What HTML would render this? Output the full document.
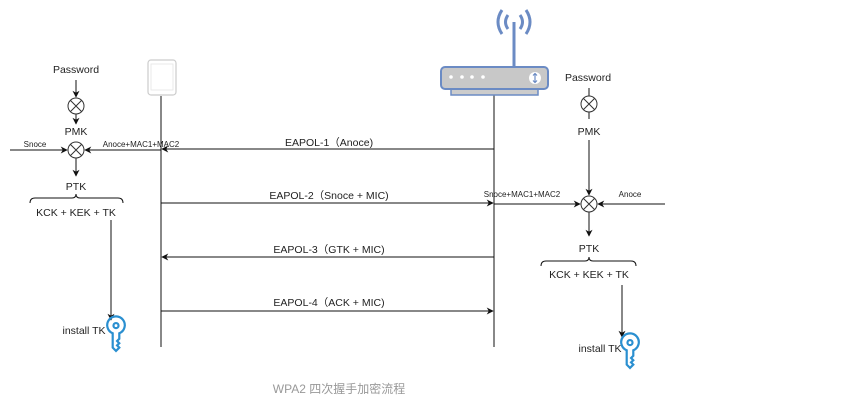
<!DOCTYPE html>
<html><head><meta charset="utf-8"><style>
html,body{margin:0;padding:0;background:#fff;}
svg{display:block;}
text{font-family:"Liberation Sans","Noto Sans CJK SC",sans-serif;fill:#222;}
</style></head><body>
<svg width="865" height="403" viewBox="0 0 865 403" xmlns="http://www.w3.org/2000/svg">
<defs>
<marker id="a" viewBox="0 0 10 10" refX="9" refY="5" markerWidth="7" markerHeight="7" orient="auto"><path d="M0,0 L10,5 L0,10 L3,5 z" fill="#111"/></marker>
<g id="x"><circle r="8" fill="#fff" stroke="#333" stroke-width="1"/><path d="M-5.6,-5.6 L5.6,5.6 M5.6,-5.6 L-5.6,5.6" stroke="#333" stroke-width="1"/></g>
<g id="key" fill="none" stroke="#2a8fd0" stroke-width="2"><path d="M-3,3 A8,8 0 1 1 3,3 L3,8 L1,10 L3,12 L1,14 L3,16 L0,19 L-3,16 Z"/><circle cx="0" cy="-4" r="2.3"/></g>
</defs>
<g stroke="#111" stroke-width="1" fill="none">
<line x1="76" y1="80" x2="76" y2="97" marker-end="url(#a)"/>
<line x1="76" y1="114" x2="76" y2="124" marker-end="url(#a)"/>
<line x1="10" y1="150" x2="67" y2="150" marker-end="url(#a)"/>
<line x1="161" y1="150" x2="85" y2="150" marker-end="url(#a)"/>
<line x1="76" y1="158" x2="76" y2="176" marker-end="url(#a)"/>
<path d="M30,203 Q30,198 35,198 L72,198 Q76,198 76,194 Q76,198 80,198 L118,198 Q123,198 123,203"/>
<line x1="111" y1="220" x2="111" y2="320" marker-end="url(#a)"/>
<line x1="161" y1="96" x2="161" y2="347"/>
<line x1="494" y1="95" x2="494" y2="347"/>
<line x1="494" y1="149" x2="162" y2="149" marker-end="url(#a)"/>
<line x1="161" y1="203" x2="493" y2="203" marker-end="url(#a)"/>
<line x1="494" y1="257" x2="162" y2="257" marker-end="url(#a)"/>
<line x1="161" y1="311" x2="493" y2="311" marker-end="url(#a)"/>
<line x1="589" y1="88" x2="589" y2="96"/>
<line x1="589" y1="112" x2="589" y2="119"/>
<line x1="589" y1="140" x2="589" y2="195" marker-end="url(#a)"/>
<line x1="494" y1="204" x2="580" y2="204" marker-end="url(#a)"/>
<line x1="665" y1="204" x2="598" y2="204" marker-end="url(#a)"/>
<line x1="589" y1="212" x2="589" y2="236" marker-end="url(#a)"/>
<path d="M541,266 Q541,261 546,261 L585,261 Q589,261 589,257 Q589,261 593,261 L631,261 Q636,261 636,266"/>
<line x1="622" y1="285" x2="622" y2="337" marker-end="url(#a)"/>
</g>
<use href="#x" x="76" y="106"/>
<use href="#x" x="76" y="150"/>
<use href="#x" x="589" y="104"/>
<use href="#x" x="589" y="204"/>
<rect x="148" y="60" width="28" height="35" rx="3" fill="#fff" stroke="#ccc" stroke-width="1.2"/>
<rect x="151" y="64" width="22" height="26" fill="none" stroke="#e4e4e4" stroke-width="0.8"/>
<g stroke="#6b8bc4" stroke-width="2" fill="none">
<line x1="514" y1="22" x2="514" y2="67" stroke-width="3"/>
<path d="M508,15 Q503,22 508,29 M502,10 Q494,22 502,34 M520,15 Q525,22 520,29 M526,10 Q534,22 526,34" stroke-width="3"/>
<rect x="451" y="88" width="87" height="7" fill="#ccc" stroke-width="1.5"/>
<rect x="441" y="67" width="107" height="22" rx="4" fill="#c8c8c8"/>
</g>
<g fill="#fff"><circle cx="451" cy="77" r="1.8"/><circle cx="462" cy="77" r="1.8"/><circle cx="472" cy="77" r="1.8"/><circle cx="483" cy="77" r="1.8"/><circle cx="535" cy="78" r="6"/></g>
<path d="M535,74 L535,82 M533,75.5 L535,73.5 L537,75.5 M533,80.5 L535,82.5 L537,80.5" stroke="#6b8bc4" stroke-width="1.2" fill="none"/>
<use href="#key" transform="translate(116,330) scale(1.1)"/>
<use href="#key" transform="translate(630,347) scale(1.1)"/>
<g font-size="10.5" text-anchor="middle">
<text x="76" y="73">Password</text>
<text x="76" y="135">PMK</text>
<text x="76" y="190">PTK</text>
<text x="76" y="216">KCK + KEK + TK</text>
<text x="588" y="81">Password</text>
<text x="589" y="135">PMK</text>
<text x="589" y="252">PTK</text>
<text x="589" y="278">KCK + KEK + TK</text>
<text x="329" y="146">EAPOL-1（Anoce)</text>
<text x="329" y="199">EAPOL-2（Snoce + MIC)</text>
<text x="329" y="253">EAPOL-3（GTK + MIC)</text>
<text x="329" y="306">EAPOL-4（ACK + MIC)</text>
<text x="84" y="334">install TK</text>
<text x="600" y="352">install TK</text>
</g>
<g font-size="8" text-anchor="middle">
<text x="35" y="147">Snoce</text>
<text x="141" y="147">Anoce+MAC1+MAC2</text>
<text x="522" y="197">Snoce+MAC1+MAC2</text>
<text x="630" y="197">Anoce</text>
</g>
<text x="339" y="393" font-size="12" text-anchor="middle" style="fill:#999">WPA2 四次握手加密流程</text>
</svg>
</body></html>
